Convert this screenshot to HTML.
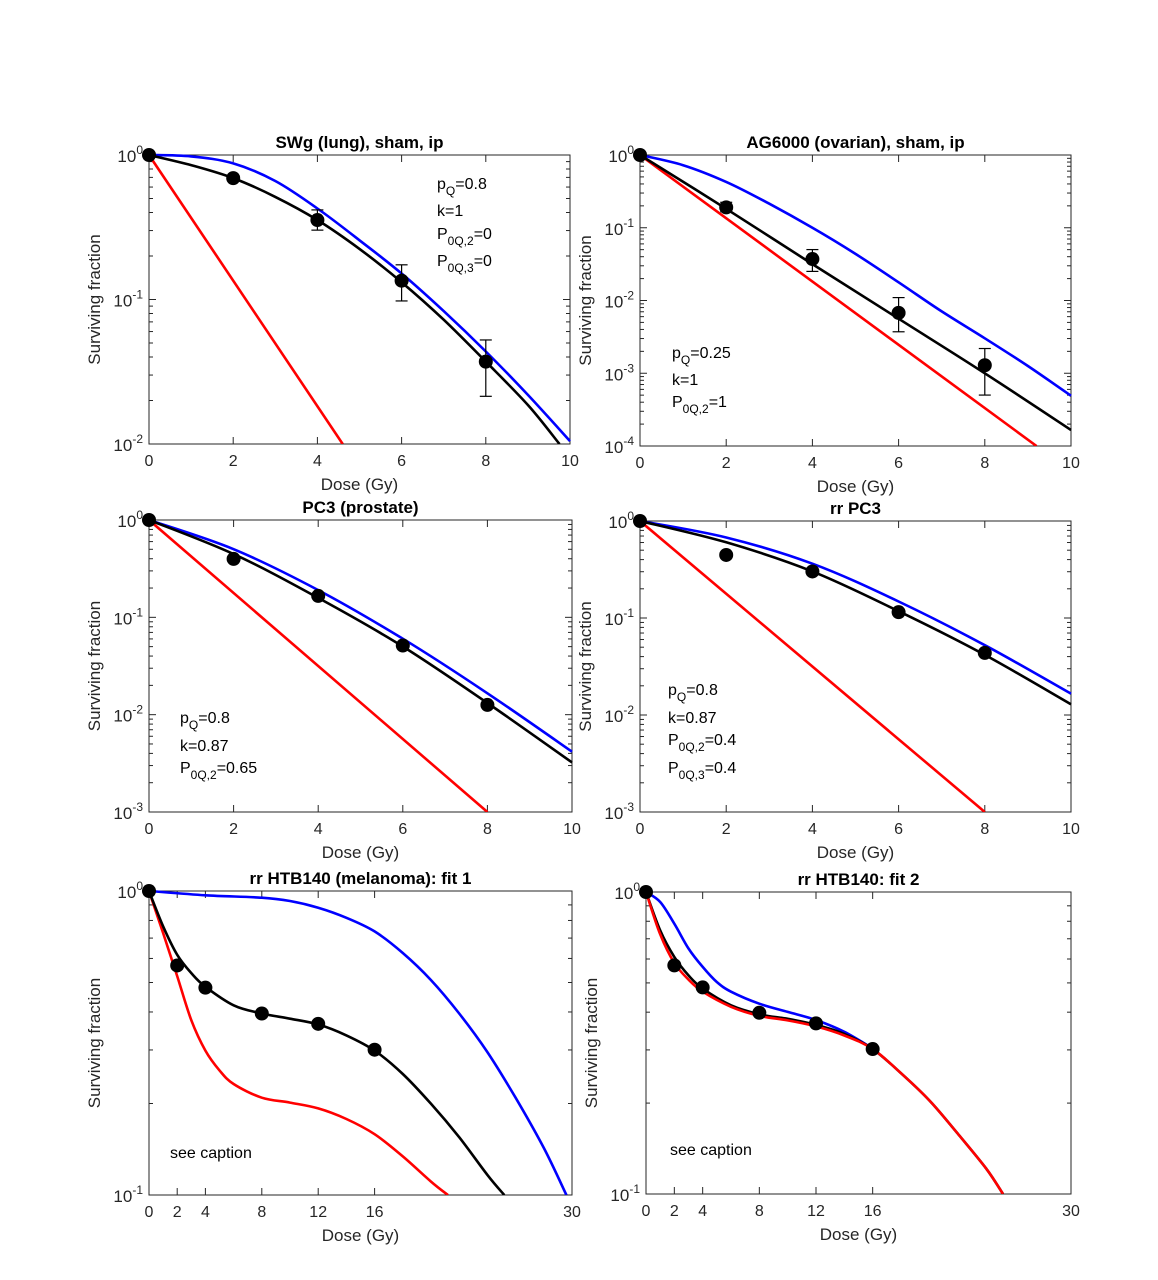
<!DOCTYPE html>
<html><head><meta charset="utf-8"><style>
html,body{margin:0;padding:0;background:#fff;}
svg{display:block;font-family:"Liberation Sans",Arial,sans-serif;}
</style></head><body>
<svg id="fig" width="1158" height="1280" viewBox="0 0 1158 1280"></svg>
<script>
// ---- data (log10 surviving fraction) ----
const p1Dose=[0,2,4,6,8];
const p1SF=[0,-0.16,-0.45,-0.87,-1.43];
const p1ErrLo=[0,-0.16,-0.52,-1.01,-1.67];
const p1ErrHi=[0,-0.16,-0.38,-0.76,-1.28];
const p1BlackX=[0,1,2,3,4,5,6,7,8,9,9.75];
const p1BlackY=[0,-0.07,-0.16,-0.29,-0.45,-0.65,-0.88,-1.14,-1.43,-1.73,-2];
const p1BlueX=[0,1,2,3,4,5,6,7,8,9,10];
const p1BlueY=[0,-0.01,-0.058,-0.18,-0.37,-0.59,-0.82,-1.08,-1.36,-1.66,-1.98];
const p1RedX=[0,4.6];
const p1RedY=[0,-2];

const p2Dose=[0,2,4,6,8];
const p2SF=[0,-0.72,-1.43,-2.17,-2.89];
const p2ErrLo=[0,-0.78,-1.6,-2.43,-3.3];
const p2ErrHi=[0,-0.65,-1.3,-1.96,-2.66];
const p2BlackX=[0,2,4,6,8,10];
const p2BlackY=[0,-0.74,-1.5,-2.25,-3.0,-3.78];
const p2BlueX=[0,1,2,3,4,5,6,7,8,9,10];
const p2BlueY=[0,-0.14,-0.37,-0.67,-1.0,-1.36,-1.75,-2.15,-2.52,-2.9,-3.31];
const p2RedX=[0,9.2];
const p2RedY=[0,-4];

const p3Dose=[0,2,4,6,8];
const p3SF=[0,-0.40,-0.78,-1.29,-1.9];
const p3BlackX=[0,2,4,6,8,10];
const p3BlackY=[0,-0.35,-0.8,-1.3,-1.88,-2.49];
const p3BlueX=[0,2,4,6,8,10];
const p3BlueY=[0,-0.3,-0.72,-1.22,-1.78,-2.38];
const p3RedX=[0,8];
const p3RedY=[0,-3];

const p4Dose=[0,2,4,6,8];
const p4SF=[0,-0.35,-0.52,-0.94,-1.36];
const p4BlackX=[0,2,4,6,8,10];
const p4BlackY=[0,-0.22,-0.52,-0.93,-1.38,-1.89];
const p4BlueX=[0,2,4,6,8,10];
const p4BlueY=[0,-0.17,-0.44,-0.83,-1.28,-1.78];
const p4RedX=[0,8];
const p4RedY=[0,-3];

const p5Dose=[0,2,4,8,12,16];
const p5SF=[0,-0.245,-0.318,-0.403,-0.437,-0.522];
const p5BlackX=[0,1,2,3,4,6,8,10,12,14,16,18,20,22,24,25.2];
const p5BlackY=[0,-0.116,-0.21,-0.27,-0.315,-0.376,-0.403,-0.42,-0.439,-0.475,-0.525,-0.602,-0.70,-0.81,-0.934,-1];
const p5BlueX=[0,4,8,10,12,14,16,18,20,22,24,26,28,29.6];
const p5BlueY=[0,-0.014,-0.022,-0.033,-0.055,-0.088,-0.133,-0.204,-0.293,-0.403,-0.53,-0.68,-0.845,-1];
const p5RedX=[0,1,2,3,4,5,6,8,10,12,14,16,18,20,21.2];
const p5RedY=[0,-0.138,-0.28,-0.425,-0.525,-0.59,-0.635,-0.68,-0.696,-0.715,-0.75,-0.80,-0.873,-0.956,-1];

const p6Dose=[0,2,4,8,12,16];
const p6SF=[0,-0.243,-0.316,-0.40,-0.435,-0.52];
const p6BlackX=[0,1,2,3,4,6,8,10,12,14,16,18,20,22,24,25.2];
const p6BlackY=[0,-0.127,-0.215,-0.276,-0.32,-0.375,-0.405,-0.42,-0.44,-0.47,-0.52,-0.6,-0.69,-0.8,-0.915,-1];
const p6RedX=[0,1,2,3,4,6,8,10,12,14,16,18,20,22,24,25.2];
const p6RedY=[0,-0.14,-0.235,-0.29,-0.33,-0.38,-0.41,-0.425,-0.445,-0.475,-0.52,-0.6,-0.69,-0.8,-0.915,-1];
const p6BlueX=[0,1,2,3,4,5,6,8,10,12,14,16];
const p6BlueY=[0,-0.033,-0.105,-0.187,-0.248,-0.298,-0.33,-0.37,-0.397,-0.424,-0.463,-0.518];

const ticksA=[0,2,4,6,8,10];
const ticksB=[0,2,4,8,12,16,30];

const NS="http://www.w3.org/2000/svg";
const fig=document.getElementById('fig');
function mk(tag,attrs,parent){const e=document.createElementNS(NS,tag);for(const k in attrs)e.setAttribute(k,attrs[k]);(parent||fig).appendChild(e);return e;}

function pathD(xs,ys,sx,sy){
  const P=xs.map((x,i)=>[sx(x),sy(ys[i])]);
  if(P.length<3)return 'M'+P.map(p=>p[0].toFixed(1)+','+p[1].toFixed(1)).join('L');
  let d='M'+P[0][0].toFixed(1)+','+P[0][1].toFixed(1);
  for(let i=0;i<P.length-1;i++){
    const p0=P[i-1]||P[i],p1=P[i],p2=P[i+1],p3=P[i+2]||P[i+1];
    const c1=[p1[0]+(p2[0]-p0[0])/6,p1[1]+(p2[1]-p0[1])/6];
    const c2=[p2[0]-(p3[0]-p1[0])/6,p2[1]-(p3[1]-p1[1])/6];
    d+='C'+c1[0].toFixed(1)+','+c1[1].toFixed(1)+' '+c2[0].toFixed(1)+','+c2[1].toFixed(1)+' '+p2[0].toFixed(1)+','+p2[1].toFixed(1);
  }
  return d;
}

function panel(cfg){
  const g=mk('g',{});
  
  
  const {x0,x1,y0,y1,xmax,ymin}=cfg;
  const sx=v=>x0+v/xmax*(x1-x0);
  const sy=v=>y0+(v/ymin)*(y1-y0);
  const clip='clip-'+cfg.name;
  const cp=mk('clipPath',{id:clip},g);mk('rect',{x:x0,y:y0-10,width:x1-x0+4,height:y1-y0+10},cp);
  const box=mk('rect',{x:x0,y:y0,width:x1-x0,height:y1-y0,fill:'none',stroke:'#262626','stroke-width':1},g);
  
  
  for(let dec=0;dec>ymin;dec--){
    for(let m=1;m<10;m++){
      const v=dec-1+Math.log10(m);
      if(v<ymin-1e-9)continue;
      const y=sy(v);const len=(m===1)?7:4;
      mk('line',{x1:x0,x2:x0+len,y1:y,y2:y,stroke:'#262626','stroke-width':1},g);
      mk('line',{x1:x1,x2:x1-len,y1:y,y2:y,stroke:'#262626','stroke-width':1},g);
    }
  }
  for(let dec=0;dec>=ymin;dec--){
    const t=mk('text',{x:x0-6,y:sy(dec)+7,'text-anchor':'end','font-size':17,fill:'#262626'},g);
    
    
    t.appendChild(document.createTextNode('10'));
    const s=mk('tspan',{dy:-8,'font-size':12},t);s.textContent=String(dec);
  }
  cfg.xticks.forEach(v=>{
    const x=sx(v);
    mk('line',{x1:x,x2:x,y1:y1,y2:y1-7,stroke:'#262626'},g);
    mk('line',{x1:x,x2:x,y1:y0,y2:y0+7,stroke:'#262626'},g);
    const t=mk('text',{x:x,y:y1+22,'text-anchor':'middle','font-size':16,fill:'#262626'},g);
    
    
    t.textContent=String(v);
  });
  const xl=mk('text',{x:(x0+x1)/2,y:y1+46,'text-anchor':'middle','font-size':17,fill:'#262626'},g);
  
  
  xl.textContent='Dose (Gy)';
  const yc=(y0+y1)/2,yx=x0-49;
  const yl=mk('text',{x:yx,y:yc,'text-anchor':'middle','font-size':17,fill:'#262626',transform:`rotate(-90 ${yx} ${yc})`},g);
  
  
  yl.textContent='Surviving fraction';
  const tt=mk('text',{x:(x0+x1)/2,y:y0-7,'text-anchor':'middle','font-size':17,'font-weight':'bold',fill:'#000'},g);
  
  
  tt.textContent=cfg.title;
  const cg=mk('g',{'clip-path':`url(#${clip})`},g);
  cfg.curves.forEach(c=>{
    const p=mk('path',{d:pathD(c.x,c.y,sx,sy),fill:'none',stroke:c.color,'stroke-width':2.6,'stroke-linejoin':'round'},cg);
    
    
  });
  if(cfg.lo){
    cfg.dose.forEach((d,i)=>{
      if(cfg.lo[i]===cfg.hi[i])return;
      const x=sx(d);
      mk('line',{x1:x,x2:x,y1:sy(cfg.lo[i]),y2:sy(cfg.hi[i]),stroke:'#000','stroke-width':1.2},g);
      mk('line',{x1:x-6,x2:x+6,y1:sy(cfg.lo[i]),y2:sy(cfg.lo[i]),stroke:'#000','stroke-width':1.2},g);
      mk('line',{x1:x-6,x2:x+6,y1:sy(cfg.hi[i]),y2:sy(cfg.hi[i]),stroke:'#000','stroke-width':1.2},g);
    });
  }
  cfg.dose.forEach((d,i)=>{
    const c=mk('circle',{cx:sx(d),cy:sy(cfg.sf[i]),r:7,fill:'#000'},g);
    
    
  });
  (cfg.notes||[]).forEach(n=>{
    const t=mk('text',{x:n.x,y:n.y,'font-size':16,fill:'#000'},g);
    
    
    t.appendChild(document.createTextNode(n.a));
    if(n.sub){const s=mk('tspan',{dy:6,'font-size':12},t);s.textContent=n.sub;
      const r=mk('tspan',{dy:-6},t);r.textContent=n.b;}
  });
}
function curves(bx,by,ux,uy,rx,ry){return [
  {name:'red-curve',x:rx,y:ry,color:'#ff0000'},
  {name:'blue-curve',x:ux,y:uy,color:'#0000ff'},
  {name:'black-fit-curve',x:bx,y:by,color:'#000'}];}

panel({name:'panel-swg',title:'SWg (lung), sham, ip',x0:149,x1:570,y0:155,y1:444,xmax:10,ymin:-2,xticks:ticksA,
  dose:p1Dose,sf:p1SF,lo:p1ErrLo,hi:p1ErrHi,curves:curves(p1BlackX,p1BlackY,p1BlueX,p1BlueY,p1RedX,p1RedY),
  notes:[{x:437,y:189,a:'p',sub:'Q',b:'=0.8'},{x:437,y:216,a:'k=1'},{x:437,y:239,a:'P',sub:'0Q,2',b:'=0'},{x:437,y:266,a:'P',sub:'0Q,3',b:'=0'}]});
panel({name:'panel-ag6000',title:'AG6000 (ovarian), sham, ip',x0:640,x1:1071,y0:155,y1:446,xmax:10,ymin:-4,xticks:ticksA,
  dose:p2Dose,sf:p2SF,lo:p2ErrLo,hi:p2ErrHi,curves:curves(p2BlackX,p2BlackY,p2BlueX,p2BlueY,p2RedX,p2RedY),
  notes:[{x:672,y:358,a:'p',sub:'Q',b:'=0.25'},{x:672,y:385,a:'k=1'},{x:672,y:407,a:'P',sub:'0Q,2',b:'=1'}]});
panel({name:'panel-pc3',title:'PC3 (prostate)',x0:149,x1:572,y0:520,y1:812,xmax:10,ymin:-3,xticks:ticksA,
  dose:p3Dose,sf:p3SF,curves:curves(p3BlackX,p3BlackY,p3BlueX,p3BlueY,p3RedX,p3RedY),
  notes:[{x:180,y:723,a:'p',sub:'Q',b:'=0.8'},{x:180,y:751,a:'k=0.87'},{x:180,y:773,a:'P',sub:'0Q,2',b:'=0.65'}]});
panel({name:'panel-rr-pc3',title:'rr PC3',x0:640,x1:1071,y0:521,y1:812,xmax:10,ymin:-3,xticks:ticksA,
  dose:p4Dose,sf:p4SF,curves:curves(p4BlackX,p4BlackY,p4BlueX,p4BlueY,p4RedX,p4RedY),
  notes:[{x:668,y:695,a:'p',sub:'Q',b:'=0.8'},{x:668,y:723,a:'k=0.87'},{x:668,y:745,a:'P',sub:'0Q,2',b:'=0.4'},{x:668,y:773,a:'P',sub:'0Q,3',b:'=0.4'}]});
panel({name:'panel-htb140-fit1',title:'rr HTB140 (melanoma): fit 1',x0:149,x1:572,y0:891,y1:1195,xmax:30,ymin:-1,xticks:ticksB,
  dose:p5Dose,sf:p5SF,curves:curves(p5BlackX,p5BlackY,p5BlueX,p5BlueY,p5RedX,p5RedY),
  notes:[{x:170,y:1158,a:'see caption'}]});
panel({name:'panel-htb140-fit2',title:'rr HTB140: fit 2',x0:646,x1:1071,y0:892,y1:1194,xmax:30,ymin:-1,xticks:ticksB,
  dose:p6Dose,sf:p6SF,curves:[
    {name:'blue-curve',x:p6BlueX,y:p6BlueY,color:'#0000ff'},
    {name:'black-fit-curve',x:p6BlackX,y:p6BlackY,color:'#000'},
    {name:'red-curve',x:p6RedX,y:p6RedY,color:'#ff0000'}],
  notes:[{x:670,y:1155,a:'see caption'}]});
</script>
</body></html>
